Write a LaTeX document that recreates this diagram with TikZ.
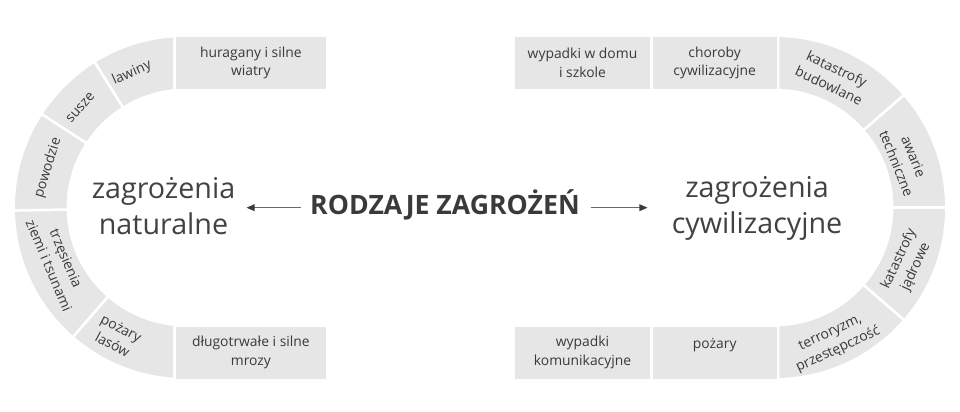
\documentclass[tikz,border=0pt]{standalone}
\usepackage{fontspec}
\setmainfont{Open Sans}
\usetikzlibrary{arrows.meta}
\definecolor{segfill}{RGB}{230,230,230}
\definecolor{txt}{RGB}{58,58,58}
\definecolor{titletxt}{RGB}{66,66,66}
\definecolor{arrline}{RGB}{105,105,105}
\newcommand\segfont{\fontsize{10.4}{13.9}\selectfont}
\newcommand\subfont{\fontsize{21.5}{27}\selectfont}
\newcommand\mainfont{\fontsize{20}{24}\selectfont\bfseries}
\begin{document}
\begin{tikzpicture}[x=0.75pt,y=0.75pt,
  box/.style={fill=segfill, inner sep=0pt, align=center, text=txt, font=\segfont,
              minimum height=39pt},
  lab/.style={inner sep=0pt, align=center, text=txt, font=\segfont},
  sep/.style={draw=white, line width=2pt},
  subt/.style={inner sep=0pt, align=center, text=titletxt, font=\subfont, anchor=base},
  arr/.style={draw=arrline, line width=0.8pt, -{Triangle[length=6pt,width=5pt,color=txt]}}]
\fill[white] (0,0) rectangle (960,411);
\useasboundingbox (0,0) rectangle (960,411);
\coordinate (CL) at (185.5,203.5);
\coordinate (CR) at (774.5,203.5);
% left ring
\begin{scope}
  \clip (0,0) rectangle (173,411);
  \fill[segfill, even odd rule] (CL) circle[radius=170.5] (CL) circle[radius=119];
\end{scope}
\foreach \a in {122,147,181,229} {
  \draw[sep] (CL) ++(\a:115) -- ++(\a:60);
}
% right ring
\begin{scope}
  \clip (779.3,0) rectangle (960,411);
  \fill[segfill, even odd rule] (CR) circle[radius=170.5] (CR) circle[radius=119];
\end{scope}
\foreach \a in {41,0,-41} {
  \draw[sep] (CR) ++(\a:115) -- ++(\a:60);
}
% rectangles
\node[box, minimum width=112.3pt] (hur) at (250.85,348) {huragany i silne\\wiatry};
\node[box, minimum width=112.3pt] (mro) at (250.85,58.5) {długotrwałe i silne\\mrozy};
\node[box, minimum width=101.25pt] (dom) at (582.5,348) {wypadki w domu\\i szkole};
\node[box, minimum width=93pt] (cho) at (714.7,348) {choroby\\cywilizacyjne};
\node[box, minimum width=101.25pt] (kom) at (582.5,58.5) {wypadki\\komunikacyjne};
\node[box, minimum width=93pt] (pozR) at (714.7,58.5) {};
\node[lab] (pozRt) at ([yshift=5.25pt]pozR.center) {pożary};
% left arc labels
\node[lab, rotate=24] (law) at ([shift={(111.7:144.7)}]CL) {lawiny};
\node[lab, rotate=49] (sus) at ([shift={(136.4:145)}]CL) {susze};
\node[lab, rotate=73] (pow) at ([shift={(164:143)}]CL) {powodzie};
\node[lab, rotate=-67] (trz) at ([shift={(203:139)}]CL) {trzęsienia\\ziemi i tsunami};
\node[lab, rotate=-28] (pozL) at ([shift={(242:146)}]CL) {pożary\\lasów};
% right arc labels
\node[lab, rotate=-25] (bud) at ([shift={(65.9:143)}]CR) {katastrofy\\budowlane};
\node[lab, rotate=-68] (awa) at ([shift={(20:139)}]CR) {awarie\\techniczne};
\node[lab, rotate=65] (jad) at ([shift={(-22.7:144)}]CR) {katastrofy\\jądrowe};
\node[lab, rotate=25] (ter) at ([shift={(-65.9:147)}]CR) {terroryzm,\\przestępczość};
% titles
\node[inner sep=0pt, text=txt, font=\mainfont, anchor=base] (title) at (445,196) {RODZAJE ZAGROŻEŃ};
\node[subt] (natL) at (163.5,176.5) {zagrożenia\\naturalne};
\node[subt] (natR) at (757,177.5) {zagrożenia\\cywilizacyjne};
\coordinate (ax) at (0,203.3);
\draw[arr, shorten <=7pt, shorten >=8.25pt] (title.west |- ax) -- (natL.east |- ax);
\draw[arr, shorten <=8pt, shorten >=18pt] (title.east |- ax) -- (natR.west |- ax);
\end{tikzpicture}
\end{document}
